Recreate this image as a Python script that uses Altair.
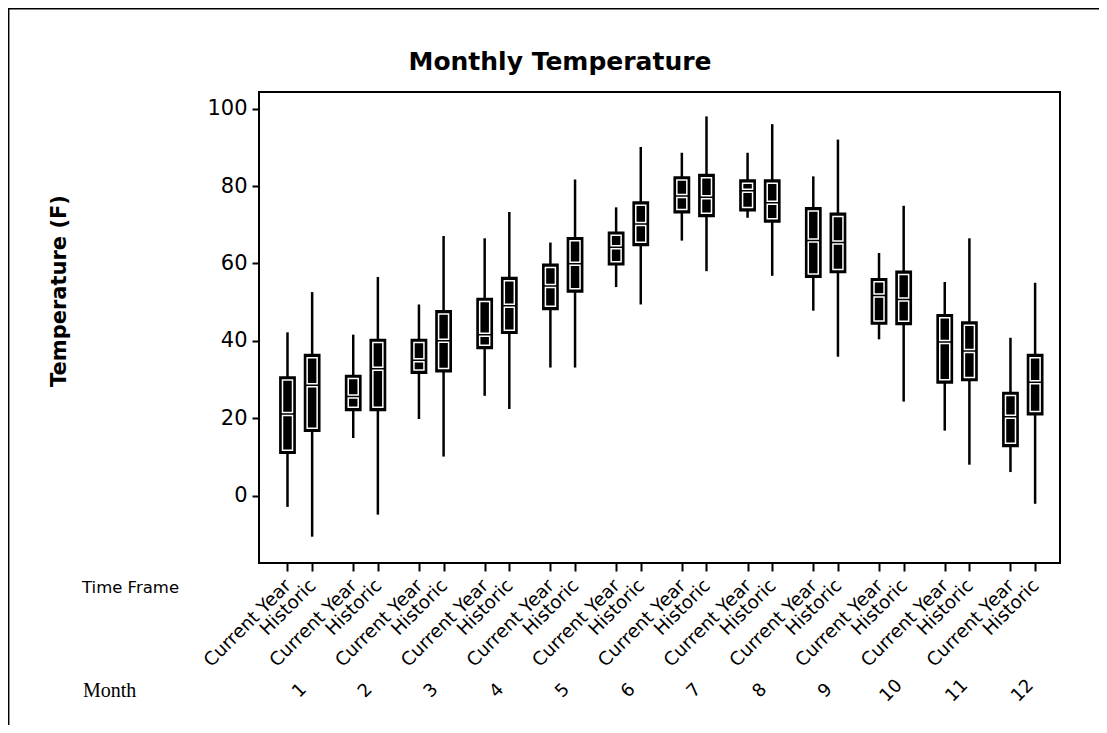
import altair as alt
import pandas as pd

months = list(range(1, 13))
frames = ["Current Year", "Historic"]

# Current Year: whisker low, Q1, median, Q3, whisker high
cy_low = [-2.9, 14.9, 19.8, 25.8, 33.1, 53.9, 65.9, 71.8, 47.8, 40.4, 16.8, 6.1]
cy_q1 = [11.1, 22.2, 31.8, 38.2, 48.3, 59.8, 73.3, 73.8, 56.6, 44.5, 29.3, 12.9]
cy_med = [21.1, 25.6, 35.0, 41.6, 54.2, 64.2, 77.4, 78.8, 65.9, 51.7, 39.7, 20.4]
cy_q3 = [30.5, 30.9, 40.2, 50.8, 59.6, 67.9, 82.2, 81.4, 74.2, 55.9, 46.6, 26.5]
cy_high = [42.2, 41.6, 49.4, 66.5, 65.4, 74.5, 88.6, 88.6, 82.5, 62.7, 55.2, 40.8]

# Historic
h_low = [-10.6, -4.9, 10.1, 22.4, 33.1, 49.4, 58.0, 56.8, 35.9, 24.3, 8.0, -2.1]
h_q1 = [16.8, 22.2, 32.2, 42.1, 52.8, 64.8, 72.3, 70.9, 57.8, 44.4, 29.9, 21.1]
h_med = [28.5, 32.8, 40.0, 49.1, 59.9, 70.2, 77.1, 75.7, 65.4, 50.7, 37.4, 29.3]
h_q3 = [36.3, 40.2, 47.6, 56.2, 66.5, 75.7, 82.8, 81.4, 72.8, 57.8, 44.7, 36.3]
h_high = [52.6, 56.5, 67.1, 73.3, 81.7, 90.1, 98.0, 96.0, 92.0, 74.9, 66.5, 55.0]

y_ticks = [0, 20, 40, 60, 80, 100]

OFF = 0.1875  # half-distance between the two boxes of a month (in month units)

rows = []
for i, m in enumerate(months):
    rows.append(dict(month=m, frame=frames[0], pos=m - OFF, low=cy_low[i], q1=cy_q1[i],
                     med=cy_med[i], q3=cy_q3[i], high=cy_high[i]))
    rows.append(dict(month=m, frame=frames[1], pos=m + OFF, low=h_low[i], q1=h_q1[i],
                     med=h_med[i], q3=h_q3[i], high=h_high[i]))
df = pd.DataFrame(rows)
pos_values = list(df["pos"])
mdf = pd.DataFrame({"month": months, "label": [str(m) for m in months]})
one = pd.DataFrame({"a": [0]})

FONT = "DejaVu Sans"
xs = alt.Scale(domain=[0.455, 12.49], nice=False, zero=False)
ys = alt.Scale(domain=[-17.4, 104.3], nice=False, zero=False)

x_axis = alt.Axis(values=pos_values,
                  labelExpr="datum.value - floor(datum.value) > 0.5 ? 'Current Year' : 'Historic'",
                  title=None, grid=False, domain=False, tickSize=8, tickWidth=2,
                  tickColor="black", labelAngle=315, labelAlign="right",
                  labelBaseline="middle", labelFont=FONT, labelFontSize=18.5,
                  labelColor="black", labelPadding=11, labelOverlap=False,
                  labelFlush=False, labelBound=False)
y_axis = alt.Axis(values=y_ticks, title=None, grid=False, domain=False, tickSize=7,
                  tickWidth=2, tickColor="black", labelFont=FONT, labelFontSize=21,
                  labelColor="black", labelPadding=5)

X = alt.X("pos:Q", scale=xs, axis=x_axis)

base = alt.Chart(df)
whisk = base.mark_rule(color="black", strokeWidth=2.5).encode(
    x=X, y=alt.Y("low:Q", scale=ys, axis=y_axis), y2="high:Q")
outer = base.mark_bar(size=14, fill="black", stroke="black", strokeWidth=2.8).encode(
    x=X, y=alt.Y("q1:Q", scale=ys, axis=y_axis), y2="q3:Q")
inner_lo = base.mark_bar(size=10, fill="black", stroke="white", strokeWidth=1.5,
                         yOffset=-2.5, y2Offset=1.5).encode(
    x=X, y=alt.Y("q1:Q", scale=ys, axis=y_axis), y2="med:Q")
inner_hi = base.mark_bar(size=10, fill="black", stroke="white", strokeWidth=1.5,
                         yOffset=-1.5, y2Offset=2.5).encode(
    x=X, y=alt.Y("med:Q", scale=ys, axis=y_axis), y2="q3:Q")

month_lbl = alt.Chart(mdf).mark_text(font=FONT, fontSize=18, angle=315, align="center",
                                     baseline="middle", color="black").encode(
    x=alt.X("month:Q", scale=xs, axis=x_axis), y=alt.value(599), text="label:N")

title = alt.Chart(one).mark_text(text="Monthly Temperature", font=FONT, fontWeight="bold",
                                 fontSize=25, align="center", baseline="middle",
                                 color="black").encode(x=alt.value(301), y=alt.value(-30))
ytitle = alt.Chart(one).mark_text(text="Temperature (F)", font=FONT, fontWeight="bold",
                                  fontSize=21, angle=270, align="center", baseline="middle",
                                  color="black").encode(x=alt.value(-199), y=alt.value(199))
tf_lbl = alt.Chart(one).mark_text(text="Time Frame", font=FONT, fontSize=16.5, align="left",
                                  baseline="middle", color="black").encode(
    x=alt.value(-177), y=alt.value(496))
mo_lbl = alt.Chart(one).mark_text(text="Month", font="Liberation Serif", fontSize=20,
                                  align="left", baseline="middle", color="black").encode(
    x=alt.value(-176), y=alt.value(599))

border_l = alt.Chart(one).mark_rule(color="black", strokeWidth=1.5).encode(
    x=alt.value(-250.3), y=alt.value(-84), y2=alt.value(633))
border_t = alt.Chart(one).mark_rule(color="black", strokeWidth=1.5).encode(
    x=alt.value(-251), x2=alt.value(840), y=alt.value(-83.3))

chart = alt.layer(whisk, outer, inner_lo, inner_hi, month_lbl, title, ytitle, tf_lbl,
                  mo_lbl, border_l, border_t).properties(
    width=801, height=471,
    padding={"left": 251, "top": 84, "right": 39, "bottom": 162},
    autosize=alt.AutoSizeParams(type="none"),
    background="white",
).configure_view(stroke="black", strokeWidth=2)

chart.save("out.html", embed_options={"renderer": "svg", "actions": False})
